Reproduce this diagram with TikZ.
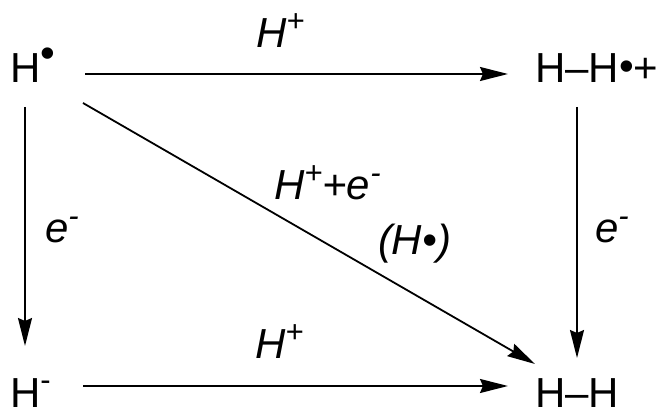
\documentclass[tikz,border=0pt]{standalone}
\usepackage{fontspec}
\setmainfont{Liberation Sans}
\usetikzlibrary{arrows.meta}
\newcommand\upsc[1]{\raisebox{0.40em}{\fontsize{31}{31}\selectfont #1}}
\newcommand\updot{\raisebox{0.36em}{\textbullet}}
\begin{document}
\begin{tikzpicture}[x=1pt,y=-1pt,
  lbl/.style={inner sep=0pt, outer sep=0pt, font=\fontsize{42}{50}\selectfont},
  arr/.style={line width=1.8pt, -{Stealth[length=28pt,width=14pt,inset=3pt]}}]
\useasboundingbox (0,0) rectangle (661,411);
% species
\node[lbl, anchor=base west] (Hdot) at (10,83) {H\updot};
\node[lbl, anchor=base west] (HHp) at (535,83) {H–H\raisebox{0.05em}{\textbullet}+};
\node[lbl, anchor=base west] (Hm) at (10,407) {H\upsc{-}};
\node[lbl, anchor=base west] (HH) at (535,407) {H–H};
% arrow ends
\coordinate (a1) at (85,74);  \coordinate (b1) at (508,74);
\coordinate (a2) at (25,107); \coordinate (b2) at (25,346);
\coordinate (a3) at (577,107); \coordinate (b3) at (577,358);
\coordinate (a4) at (83,386); \coordinate (b4) at (508,386);
\coordinate (a5) at (83,103); \coordinate (b5) at (535,364);
\draw[arr] (a1) -- (b1);
\draw[arr] (a2) -- (b2);
\draw[arr] (a3) -- (b3);
\draw[arr] (a4) -- (b4);
\draw[arr] (a5) -- (b5);
% labels
\node[lbl, anchor=base west] (l1) at (256,48) {\itshape H\upsc{+}};
\node[lbl, anchor=base west] (l2) at (255,359) {\itshape H\upsc{+}};
\node[lbl, anchor=base west] (l3) at (274,200) {\itshape H\upsc{+}+e\upsc{-}};
\node[lbl, anchor=base west] (l4) at (378,255) {\itshape (H\textbullet)};
\node[lbl, anchor=base west] (l5) at (45,243) {\itshape e\upsc{-}};
\node[lbl, anchor=base west] (l6) at (595,243) {\itshape e\upsc{-}};
\end{tikzpicture}
\end{document}
